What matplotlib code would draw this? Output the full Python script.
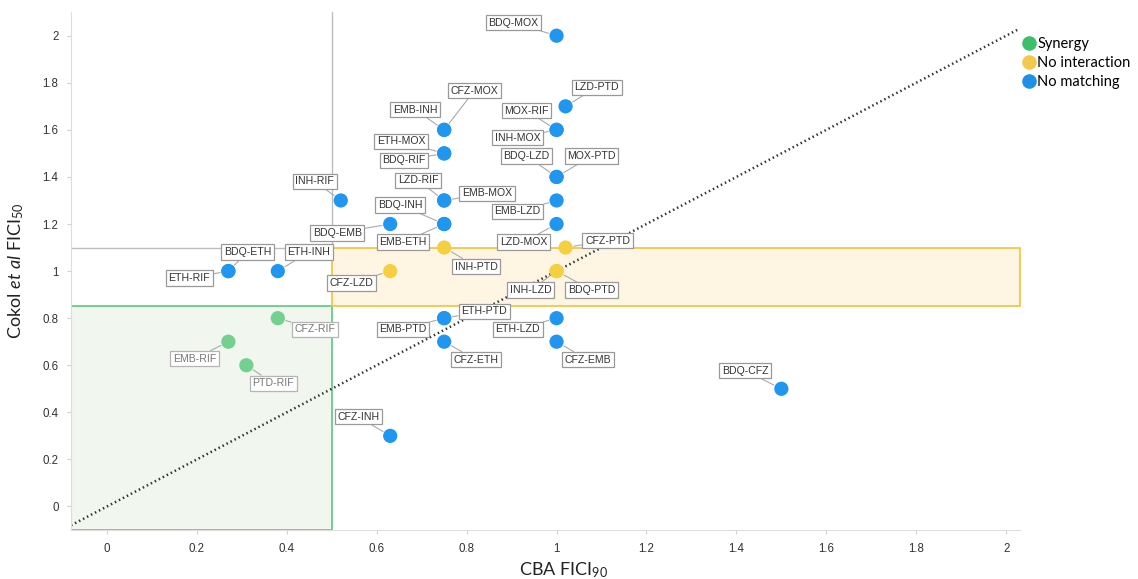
import matplotlib
matplotlib.use("Agg")
import matplotlib.pyplot as plt
from matplotlib.patches import Rectangle
from matplotlib.lines import Line2D

# Drug pairs: CBA FICI90 (x) vs Cokol et al FICI50 (y)
pairs = ["BDQ-MOX", "LZD-PTD", "MOX-RIF", "INH-MOX", "EMB-INH", "CFZ-MOX",
         "ETH-MOX", "BDQ-RIF", "BDQ-LZD", "MOX-PTD", "INH-RIF", "LZD-RIF",
         "EMB-MOX", "EMB-LZD", "BDQ-EMB", "BDQ-INH", "EMB-ETH", "LZD-MOX",
         "INH-PTD", "CFZ-PTD", "BDQ-ETH", "ETH-INH", "ETH-RIF", "CFZ-LZD",
         "INH-LZD", "BDQ-PTD", "ETH-PTD", "EMB-PTD", "CFZ-ETH", "ETH-LZD",
         "CFZ-EMB", "BDQ-CFZ", "CFZ-INH", "CFZ-RIF", "EMB-RIF", "PTD-RIF"]
cba_fici90 = [1.0, 1.02, 1.0, 1.0, 0.75, 0.75,
              0.75, 0.75, 1.0, 1.0, 0.52, 0.75,
              0.75, 1.0, 0.63, 0.75, 0.75, 1.0,
              0.75, 1.02, 0.27, 0.38, 0.27, 0.63,
              1.0, 1.0, 0.75, 0.75, 0.75, 1.0,
              1.0, 1.5, 0.63, 0.38, 0.27, 0.31]
cokol_fici50 = [2.0, 1.7, 1.6, 1.6, 1.6, 1.6,
                1.5, 1.5, 1.4, 1.4, 1.3, 1.3,
                1.3, 1.3, 1.2, 1.2, 1.2, 1.2,
                1.1, 1.1, 1.0, 1.0, 1.0, 1.0,
                1.0, 1.0, 0.8, 0.8, 0.7, 0.8,
                0.7, 0.5, 0.3, 0.8, 0.7, 0.6]
groups = ["No matching"] * 18 + ["No interaction"] * 2 + ["No matching"] * 3 + \
         ["No interaction"] * 3 + ["No matching"] * 7 + ["Synergy"] * 3

group_order = ["Synergy", "No interaction", "No matching"]

x_ticks = [0, 0.2, 0.4, 0.6, 0.8, 1, 1.2, 1.4, 1.6, 1.8, 2]
x_tick_labels = ["0", "0.2", "0.4", "0.6", "0.8", "1", "1.2", "1.4", "1.6", "1.8", "2"]
y_ticks = x_ticks
y_tick_labels = x_tick_labels

# Styling
point_color = {"Synergy": "#74d08f", "No interaction": "#f4cf40", "No matching": "#2196f0"}
legend_color = {"Synergy": "#3dbf6a", "No interaction": "#f2c94c", "No matching": "#1e90e6"}

# Label placement relative to each point (pixels: right, up)
label_offset = {
    "BDQ-MOX": (-43, 13), "LZD-PTD": (31, 19), "MOX-RIF": (-30, 19), "INH-MOX": (-39, -8),
    "EMB-INH": (-29, 20), "CFZ-MOX": (30, 39), "ETH-MOX": (-43, 12), "BDQ-RIF": (-40, -7),
    "BDQ-LZD": (-30, 21), "MOX-PTD": (35, 21), "INH-RIF": (-26, 19), "LZD-RIF": (-26, 20),
    "EMB-MOX": (43, 7), "EMB-LZD": (-39, -11), "BDQ-EMB": (-53, -9), "BDQ-INH": (-44, 19),
    "EMB-ETH": (-41, -18), "LZD-MOX": (-33, -18), "INH-PTD": (32, -19), "CFZ-PTD": (42, 7),
    "BDQ-ETH": (19, 19), "ETH-INH": (31, 19), "ETH-RIF": (-39, -7), "CFZ-LZD": (-39, -12),
    "INH-LZD": (-26, -19), "BDQ-PTD": (35, -19), "ETH-PTD": (40, 7), "EMB-PTD": (-41, -11),
    "CFZ-ETH": (32, -18), "ETH-LZD": (-39, -11), "CFZ-EMB": (31, -18), "BDQ-CFZ": (-36, 18),
    "CFZ-INH": (-32, 19), "CFZ-RIF": (37, -11), "EMB-RIF": (-34, -17), "PTD-RIF": (27, -18),
}

plt.rcParams["font.family"] = ["Liberation Sans", "DejaVu Sans"]
plt.rcParams["mathtext.fontset"] = "custom"
plt.rcParams["mathtext.rm"] = "Lato"
plt.rcParams["mathtext.it"] = "Lato:italic"

fig = plt.figure(figsize=(11.38, 5.79), dpi=100)
ax = fig.add_axes([0.0624, 0.0846, 0.8336, 0.8944])

x_min, x_max = -0.08, 2.03
y_min, y_max = -0.1, 2.1
ax.set_xlim(x_min, x_max)
ax.set_ylim(y_min, y_max)

# Region shading
ax.add_patch(Rectangle((x_min, y_min), 0.5 - x_min, 0.85 - y_min,
                       facecolor="#f1f6ee", edgecolor="#5cc880", lw=1.2, zorder=1))
ax.add_patch(Rectangle((0.5, 0.85), x_max - 0.5, 0.25,
                       facecolor="#fef6e3", edgecolor="#f3c23c", lw=1.2, zorder=1,
                       clip_on=False))

# Quadrant guide lines
ax.plot([0.5, 0.5], [1.1, y_max], color="#bdbdbd", lw=1.0, zorder=1.5)
ax.plot([x_min, 0.5], [1.1, 1.1], color="#bdbdbd", lw=1.0, zorder=1.5)

# Line of identity
ax.plot([x_min, x_max], [x_min, x_max], color="#333333", lw=1.8,
        ls=(0, (0.6, 1.2)), zorder=2)

for g in group_order:
    xs = [x for x, gg in zip(cba_fici90, groups) if gg == g]
    ys = [y for y, gg in zip(cokol_fici50, groups) if gg == g]
    ax.scatter(xs, ys, s=105, color=point_color[g], edgecolors="none", zorder=4)

for name, x, y, g in zip(pairs, cba_fici90, cokol_fici50, groups):
    dx, dy = label_offset[name]
    faded = g == "Synergy"
    ax.annotate(name, xy=(x, y), xytext=(dx, dy), textcoords="offset pixels",
                ha="center", va="center", fontsize=7.6,
                color="#777777" if faded else "#333333", zorder=3,
                bbox=dict(boxstyle="square,pad=0.25", fc="white",
                          ec="#b5b5b5" if faded else "#999999", lw=0.9),
                arrowprops=dict(arrowstyle="-", color="#aaaaaa", lw=0.8,
                                shrinkA=0, shrinkB=6))

ax.set_xticks(x_ticks)
ax.set_xticklabels(x_tick_labels)
ax.set_yticks(y_ticks)
ax.set_yticklabels(y_tick_labels)
ax.tick_params(axis="both", length=3, color="#d0d0d0", labelsize=8.3,
               labelcolor="#333333", pad=6)
for side in ("top", "right"):
    ax.spines[side].set_visible(False)
for side in ("left", "bottom"):
    ax.spines[side].set_color("#dddddd")

ax.set_xlabel(r"CBA FICI$_{90}$", fontsize=13, family="Lato", labelpad=8, color="#222222")
ax.xaxis.set_label_coords(0.519, -0.058)
ax.set_ylabel(r"Cokol $\it{et\ al}$ FICI$_{50}$", fontsize=13, family="Lato",
              labelpad=12, color="#222222")

handles = [Line2D([], [], marker="o", ls="none", markersize=10.5,
                  markerfacecolor=legend_color[g], markeredgecolor="none")
           for g in group_order]
fig.legend(handles, group_order, loc="upper left", bbox_to_anchor=(0.893, 0.946),
           frameon=False, prop={"family": "Lato", "size": 10.5},
           handletextpad=0.05, handlelength=1.0, labelspacing=0.35, borderaxespad=0)

fig.savefig("out.png", dpi=100)
